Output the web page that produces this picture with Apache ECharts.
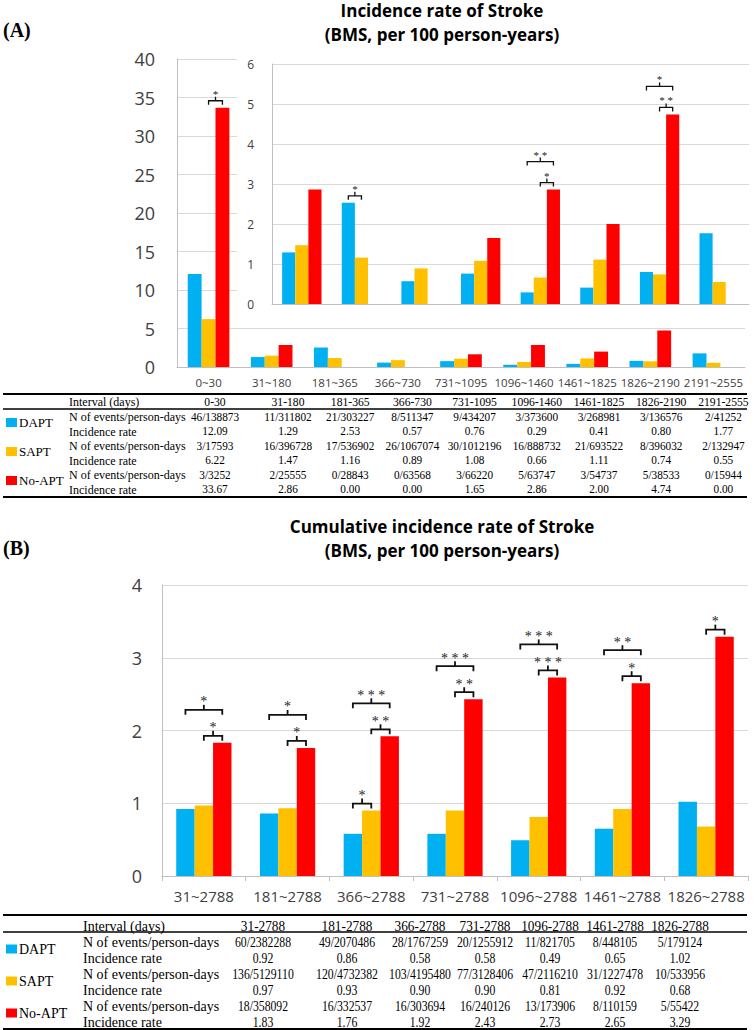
<!DOCTYPE html>
<html>
<head>
<meta charset="utf-8">
<title>Incidence rate of Stroke (BMS)</title>
<script src="https://cdn.jsdelivr.net/npm/echarts@6/dist/echarts.min.js"></script>
<style>
  html, body { margin: 0; padding: 0; background: #fff; }
  #chart { width: 755px; height: 1030px; }
</style>
</head>
<body>
<div id="chart"></div>
<script>
// ---------- panel A: incidence per interval ----------
var intervalsA = ['0~30', '31~180', '181~365', '366~730', '731~1095', '1096~1460', '1461~1825', '1826~2190', '2191~2555'];
var daptA = [12.09, 1.29, 2.53, 0.57, 0.76, 0.29, 0.41, 0.80, 1.77];
var saptA = [6.22, 1.47, 1.16, 0.89, 1.08, 0.66, 1.11, 0.74, 0.55];
var noaptA = [33.67, 2.86, 0.00, 0.00, 1.65, 2.86, 2.00, 4.74, 0.00];
var daptEventsA = ['46/138873', '11/311802', '21/303227', '8/511347', '9/434207', '3/373600', '3/268981', '3/136576', '2/41252'];
var saptEventsA = ['3/17593', '16/396728', '17/536902', '26/1067074', '30/1012196', '16/888732', '21/693522', '8/396032', '2/132947'];
var noaptEventsA = ['3/3252', '2/25555', '0/28843', '0/63568', '3/66220', '5/63747', '3/54737', '5/38533', '0/15944'];
var ticksA = [0, 5, 10, 15, 20, 25, 30, 35, 40];
var ticksInset = [0, 1, 2, 3, 4, 5, 6];

// ---------- panel B: cumulative incidence ----------
var intervalsB = ['31~2788', '181~2788', '366~2788', '731~2788', '1096~2788', '1461~2788', '1826~2788'];
var daptB = [0.92, 0.86, 0.58, 0.58, 0.49, 0.65, 1.02];
var saptB = [0.97, 0.93, 0.90, 0.90, 0.81, 0.92, 0.68];
var noaptB = [1.83, 1.76, 1.92, 2.43, 2.73, 2.65, 3.29];
var daptEventsB = ['60/2382288', '49/2070486', '28/1767259', '20/1255912', '11/821705', '8/448105', '5/179124'];
var saptEventsB = ['136/5129110', '120/4732382', '103/4195480', '77/3128406', '47/2116210', '31/1227478', '10/533956'];
var noaptEventsB = ['18/358092', '16/332537', '16/303694', '16/240126', '13/173906', '8/110159', '5/55422'];
var ticksB = [0, 1, 2, 3, 4];

var groups = ['DAPT', 'SAPT', 'No-APT'];
var colors = ['#00B0F0', '#FFC000', '#FF0000'];

// significance brackets: grid, category, from bar, to bar, level, stars
var sigA = [
  {g: 0, cat: '0~30', a: 1, b: 2, lv: 0, mark: '*'},
  {g: 1, cat: '181~365', a: 0, b: 1, lv: 0, mark: '*'},
  {g: 1, cat: '1096~1460', a: 1, b: 2, lv: 0, mark: '*'},
  {g: 1, cat: '1096~1460', a: 0, b: 2, lv: 1, mark: '**'},
  {g: 1, cat: '1826~2190', a: 1, b: 2, lv: 0, mark: '**'},
  {g: 1, cat: '1826~2190', a: 0, b: 2, lv: 1, mark: '*'}
];
var sigB = [
  {g: 2, cat: '31~2788', a: 1, b: 2, lv: 0, mark: '*'},
  {g: 2, cat: '31~2788', a: 0, b: 2, lv: 1, mark: '*'},
  {g: 2, cat: '181~2788', a: 1, b: 2, lv: 0, mark: '*'},
  {g: 2, cat: '181~2788', a: 0, b: 2, lv: 1, mark: '*'},
  {g: 2, cat: '366~2788', a: 0, b: 1, lv: 0, mark: '*'},
  {g: 2, cat: '366~2788', a: 1, b: 2, lv: 0, mark: '**'},
  {g: 2, cat: '366~2788', a: 0, b: 2, lv: 1, mark: '***'},
  {g: 2, cat: '731~2788', a: 1, b: 2, lv: 0, mark: '**'},
  {g: 2, cat: '731~2788', a: 0, b: 2, lv: 1, mark: '***'},
  {g: 2, cat: '1096~2788', a: 1, b: 2, lv: 0, mark: '***'},
  {g: 2, cat: '1096~2788', a: 0, b: 2, lv: 1, mark: '***'},
  {g: 2, cat: '1461~2788', a: 1, b: 2, lv: 0, mark: '*'},
  {g: 2, cat: '1461~2788', a: 0, b: 2, lv: 1, mark: '**'},
  {g: 2, cat: '1826~2788', a: 1, b: 2, lv: 0, mark: '*'}
];

var chart = echarts.init(document.getElementById('chart'), null, {renderer: 'svg'});

var SANS = 'Open Sans';
var SERIF = 'Liberation Serif';
var axisGray = '#BFBFBF';
var gridGray = '#D9D9D9';

function valueAxis(gi, ticks, fontSize, margin, z) {
  return {
    type: 'value', gridIndex: gi, z: z,
    min: ticks[0], max: ticks[ticks.length - 1], interval: ticks[1] - ticks[0],
    axisLine: {show: true, lineStyle: {color: axisGray, width: 1}},
    axisTick: {show: false},
    axisLabel: {color: '#404040', fontFamily: SANS, fontSize: fontSize, margin: margin},
    splitLine: {show: true, lineStyle: {color: gridGray, width: 1}}
  };
}

function barSeries(gi, vals, z) {
  return vals.map(function (d, i) {
    return {
      name: groups[i], type: 'bar', xAxisIndex: gi, yAxisIndex: gi, z: z,
      data: d, barWidth: '22%', barGap: '0%',
      itemStyle: {color: colors[i]}, animation: false
    };
  });
}

var valsA = [daptA, saptA, noaptA];
var valsInset = valsA.map(function (d) { return d.slice(1); });
var valsB = [daptB, saptB, noaptB];
var valsByGrid = [valsA, valsInset, valsB];

// ---------- static graphics: titles, tables ----------
var graphics = [];

function txt(x, y, s, fam, size, weight, align, sx) {
  graphics.push({
    type: 'text', x: x, y: y, z: 20, scaleX: sx || 1,
    style: {text: s, fontFamily: fam, fontSize: size, fontWeight: weight || 'normal', fill: '#000',
      textAlign: align || 'left', align: align || 'left',
      textVerticalAlign: 'middle', verticalAlign: 'middle'}
  });
}
function rule(x1, x2, y, w) {
  graphics.push({type: 'line', z: 20, shape: {x1: x1, y1: y, x2: x2, y2: y}, style: {stroke: '#000', lineWidth: w}});
}

// titles
txt(3, 30, '(A)', SERIF, 20, 'bold');
txt(442, 10, 'Incidence rate of Stroke', SANS, 17, 'bold', 'center');
txt(442, 34, '(BMS, per 100 person-years)', SANS, 17, 'bold', 'center');
txt(3, 548, '(B)', SERIF, 20, 'bold');
txt(442, 526, 'Cumulative incidence rate of Stroke', SANS, 17, 'bold', 'center');
txt(442, 550, '(BMS, per 100 person-years)', SANS, 17, 'bold', 'center');

// white backing for the inset chart
graphics.push({type: 'rect', z: 1, shape: {x: 237, y: 52, width: 518, height: 266}, style: {fill: '#fff'}});

function buildTable(t) {
  rule(3, 747, t.rules[0], 1.8);
  rule(3, 747, t.rules[1], 1.3);
  rule(3, 747, t.rules[2], 1.8);
  txt(t.labelX, t.headerY, 'Interval (days)', SERIF, t.size);
  t.intervals.forEach(function (iv, c) {
    var x = t.colX(c);
    txt(x, t.headerY, iv.replace('~', '-'), SERIF, t.size, 'normal', 'center', t.hsx);
    for (var g = 0; g < 3; g++) {
      txt(x, t.rowY[g * 2], t.ev[g][c], SERIF, t.size, 'normal', 'center', t.sx);
      txt(x, t.rowY[g * 2 + 1], t.vals[g][c].toFixed(2), SERIF, t.size, 'normal', 'center', t.sx);
    }
  });
  for (var g = 0; g < 3; g++) {
    txt(t.labelX, t.rowY[g * 2], 'N of events/person-days', SERIF, t.size);
    txt(t.labelX, t.rowY[g * 2 + 1], 'Incidence rate', SERIF, t.size);
  }
}

buildTable({
  intervals: intervalsA, ev: [daptEventsA, saptEventsA, noaptEventsA], vals: valsA,
  labelX: 69, headerY: 402, rowY: [417, 431.5, 446, 460.5, 475, 489.5],
  rules: [394, 409, 497], size: 12, sx: 0.94, hsx: 0.97,
  colX: function (c) { return c === 0 ? 215 : 288 + (c - 1) * 62.2; }
});
buildTable({
  intervals: intervalsB, ev: [daptEventsB, saptEventsB, noaptEventsB], vals: valsB,
  labelX: 83, headerY: 926, rowY: [942, 958, 974, 990, 1006, 1022],
  rules: [915, 932, 1029], size: 14, sx: 0.84, hsx: 0.95,
  colX: function (c) { return c === 0 ? 263 : (c === 1 ? 347 : 420 + (c - 2) * 65); }
});

function tableLegend(name, cy, size) {
  return {
    data: [name], left: 6, top: cy - 8, padding: 0, selectedMode: false,
    icon: 'rect', itemWidth: 11, itemHeight: 9, itemGap: 0,
    textStyle: {color: '#000', fontFamily: SERIF, fontSize: size, padding: [0, 0, 0, -3]}
  };
}

var option = {
  backgroundColor: '#fff',
  animation: false,
  legend: [
    tableLegend('DAPT', 424, 13), tableLegend('SAPT', 453, 13), tableLegend('No-APT', 482, 13),
    tableLegend('DAPT', 950, 14), tableLegend('SAPT', 982, 14), tableLegend('No-APT', 1014, 14)
  ],
  grid: [
    {left: 177, top: 59, width: 568, height: 308, outerBoundsMode: 'none', containLabel: false},
    {left: 272, top: 64, width: 477, height: 240, outerBoundsMode: 'none', containLabel: false},
    {left: 162, top: 585, width: 586, height: 291, outerBoundsMode: 'none', containLabel: false}
  ],
  xAxis: [
    {type: 'category', gridIndex: 0, data: intervalsA, z: 0,
      axisLine: {show: true, lineStyle: {color: axisGray}}, axisTick: {show: false},
      axisLabel: {interval: 0, color: '#404040', fontFamily: SANS, fontSize: 11.5, margin: 9}},
    {type: 'category', gridIndex: 1, data: intervalsA.slice(1), z: 3,
      axisLine: {show: true, lineStyle: {color: axisGray}}, axisTick: {show: false}, axisLabel: {show: false}},
    {type: 'category', gridIndex: 2, data: intervalsB, z: 0,
      axisLine: {show: true, lineStyle: {color: axisGray}},
      axisTick: {show: true, length: 5, lineStyle: {color: axisGray}},
      axisLabel: {interval: 0, color: '#404040', fontFamily: SANS, fontSize: 15, margin: 12}}
  ],
  yAxis: [
    valueAxis(0, ticksA, 18, 22, 0),
    valueAxis(1, ticksInset, 12, 18, 3),
    valueAxis(2, ticksB, 18, 20, 0)
  ],
  series: [].concat(barSeries(0, valsA, 2), barSeries(1, valsInset, 4), barSeries(2, valsB, 2)),
  graphic: {elements: graphics}
};

chart.setOption(option);

// ---------- significance brackets, placed from the axes ----------
function addBracket(s, cfg) {
  var gi = s.g;
  var cats = gi === 2 ? intervalsB : (gi === 1 ? intervalsA.slice(1) : intervalsA);
  var ci = cats.indexOf(s.cat);
  var xc = chart.convertToPixel({xAxisIndex: gi}, ci);
  var band = chart.convertToPixel({xAxisIndex: gi}, 1) - chart.convertToPixel({xAxisIndex: gi}, 0);
  var bw = band * 0.22;
  var vals = valsByGrid[gi];
  var xa = xc + (s.a - 1) * bw, xb = xc + (s.b - 1) * bw;
  var top = Infinity;
  for (var i = s.a; i <= s.b; i++) {
    top = Math.min(top, chart.convertToPixel({yAxisIndex: gi}, vals[i][ci]));
  }
  var yl = top - cfg.base - s.lv * cfg.gap;
  var xm = (xa + xb) / 2;
  graphics.push({type: 'polyline', z: 30,
    shape: {points: [[xa, yl + cfg.leg], [xa, yl], [xb, yl], [xb, yl + cfg.leg]]},
    style: {stroke: '#111', lineWidth: cfg.lw, fill: null}});
  graphics.push({type: 'line', z: 30, shape: {x1: xm, y1: yl, x2: xm, y2: yl - cfg.tick},
    style: {stroke: '#111', lineWidth: cfg.lw}});
  graphics.push({type: 'text', x: xm, y: yl - cfg.starUp, z: 30,
    style: {text: s.mark.split('').join(' '), fontFamily: SERIF, fontSize: cfg.size, fill: '#222',
      textAlign: 'center', align: 'center', textVerticalAlign: 'middle', verticalAlign: 'middle'}});
}

sigA.forEach(function (s) {
  addBracket(s, {base: 7, gap: 21, leg: 4, tick: 4, lw: 1.3, starUp: 7, size: 11});
});
sigB.forEach(function (s) {
  addBracket(s, {base: 7, gap: 26, leg: 5, tick: 5, lw: 1.8, starUp: 8, size: 14});
});

chart.setOption({graphic: {elements: graphics}});
</script>
</body>
</html>
